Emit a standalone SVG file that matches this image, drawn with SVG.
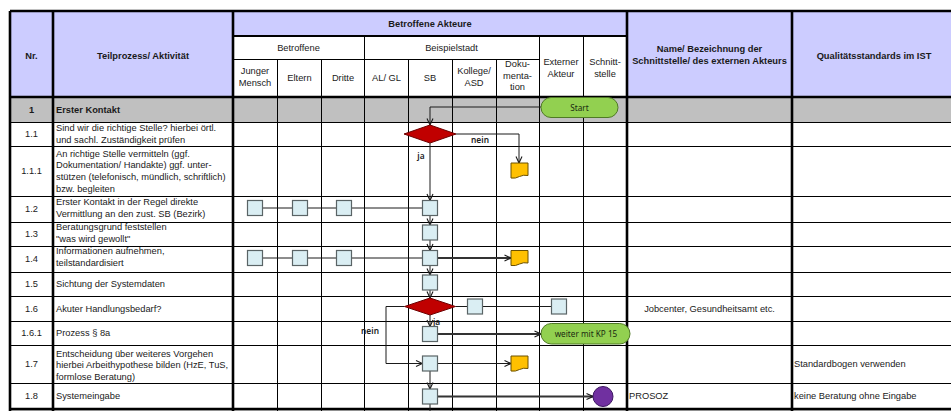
<svg xmlns="http://www.w3.org/2000/svg" width="951" height="411" viewBox="0 0 951 411">
<defs>
<marker id="arr" viewBox="0 0 8 8" refX="7.5" refY="4" markerWidth="8" markerHeight="8" markerUnits="userSpaceOnUse" orient="auto"><path d="M1,1 L7.5,4 L1,7" fill="none" stroke="#1a1a1a" stroke-width="1.1"/></marker>
</defs>
<style>
.t{font-family:"Liberation Sans",Arial,sans-serif;font-size:9.3px;fill:#1a1a1a}
.b{font-weight:bold}
.c{text-anchor:middle}
.thin{stroke:#000;stroke-width:1;fill:none}
.mid{stroke:#000;stroke-width:1.8;fill:none}
.thick{stroke:#000;stroke-width:2.6;fill:none}
.box{fill:#DAEEF3;stroke:#5a6466;stroke-width:1.2}
.dia{fill:#C00000;stroke:#6e0000;stroke-width:1}
.doc{fill:#FFC000;stroke:#6b5000;stroke-width:1}
.pill{fill:#92D050;stroke:#4f7a25;stroke-width:1}
.cir{fill:#7030A0;stroke:#3b1560;stroke-width:1}
.con{stroke:#1a1a1a;stroke-width:1;fill:none}
.con2{stroke:#333;stroke-width:1.8;fill:none}
.lbl{font-family:"Noto Sans","Open Sans",sans-serif;font-size:8.4px;font-weight:600;fill:#222}
.pt{font-family:"Noto Sans","Open Sans",sans-serif;font-size:8.2px;fill:#1a2a10;text-anchor:middle}
</style>
<g id="table">
<rect x="10" y="11" width="946" height="86" fill="#CCCCFF"/>
<rect x="233" y="36" width="394" height="61" fill="#FFFFFF"/>
<rect x="10" y="97" width="946" height="25" fill="#C0C0C0"/>
<rect x="10" y="122" width="946" height="287" fill="#FFFFFF"/>
<rect x="10" y="409" width="946" height="2" fill="#C0C0C0"/>
<path class="mid" d="M233,36 H627"/>
<path class="thin" d="M233,59.5 H539"/>
<path class="thin" d="M10,122.5 H956 M10,146.5 H956 M10,196.5 H956 M10,222.5 H956 M10,246.5 H956 M10,272.5 H956 M10,296.5 H956 M10,321.5 H956 M10,345.5 H956 M10,383.5 H956"/>
<path class="thin" d="M277.5,59 V411 M321.5,59 V411 M408.5,59 V411 M452.5,59 V411 M496.5,59 V411 M364.5,36 V411 M539.5,36 V411 M583.5,36 V411"/>
<path class="thick" d="M10,11 H956 M10,97 H956 M10,409 H956 M10,11 V411 M53,11 V411 M233,11 V411 M627,11 V411 M792,11 V411"/>
</g>
<g id="header">
<text class="t b c" x="31.5" y="58.5">Nr.</text>
<text class="t b c" x="143" y="58.5">Teilprozess/ Aktivität</text>
<text class="t b c" x="430" y="27">Betroffene Akteure</text>
<text class="t c" x="298.5" y="50.5">Betroffene</text>
<text class="t c" x="451.5" y="50.5">Beispielstadt</text>
<text class="t c" x="255" y="74">Junger</text>
<text class="t c" x="255" y="85.5">Mensch</text>
<text class="t c" x="299.5" y="80.5">Eltern</text>
<text class="t c" x="343" y="80.5">Dritte</text>
<text class="t c" x="386.5" y="80.5">AL/ GL</text>
<text class="t c" x="430" y="80.5">SB</text>
<text class="t c" x="474" y="74">Kollege/</text>
<text class="t c" x="474" y="85.5">ASD</text>
<text class="t c" x="517.5" y="67">Doku-</text>
<text class="t c" x="517.5" y="78.5">menta-</text>
<text class="t c" x="517.5" y="90">tion</text>
<text class="t c" x="561" y="65">Externer</text>
<text class="t c" x="561" y="76.5">Akteur</text>
<text class="t c" x="605" y="65">Schnitt-</text>
<text class="t c" x="605" y="76.5">stelle</text>
<text class="t b c" x="709.5" y="52">Name/ Bezeichnung der</text>
<text class="t b c" x="709.5" y="63.5">Schnittstelle/ des externen Akteurs</text>
<text class="t b c" x="874" y="58.5">Qualitätsstandards im IST</text>
</g>
<g id="rows">
<text class="t b c" x="31.5" y="113">1</text>
<text class="t b" x="56" y="113">Erster Kontakt</text>
<text class="t c" x="31.5" y="137.3">1.1</text>
<text class="t" x="56" y="131">Sind wir die richtige Stelle? hierbei örtl.</text>
<text class="t" x="56" y="142.6">und sachl. Zuständigkeit prüfen</text>
<text class="t c" x="31.5" y="174.3">1.1.1</text>
<text class="t" x="56" y="156.5">An richtige Stelle vermitteln (ggf.</text>
<text class="t" x="56" y="168.3">Dokumentation/ Handakte) ggf. unter-</text>
<text class="t" x="56" y="180.2">stützen (telefonisch, mündlich, schriftlich)</text>
<text class="t" x="56" y="192">bzw. begleiten</text>
<text class="t c" x="31.5" y="212.3">1.2</text>
<text class="t" x="56" y="205.3">Erster Kontakt in der Regel direkte</text>
<text class="t" x="56" y="217.3">Vermittlung an den zust. SB (Bezirk)</text>
<text class="t c" x="31.5" y="237.3">1.3</text>
<text class="t" x="56" y="230.3">Beratungsgrund feststellen</text>
<text class="t" x="56" y="241.8">"was wird gewollt"</text>
<text class="t c" x="31.5" y="262.3">1.4</text>
<text class="t" x="56" y="254.3">Informationen aufnehmen,</text>
<text class="t" x="56" y="266">teilstandardisiert</text>
<text class="t c" x="31.5" y="287.3">1.5</text>
<text class="t" x="56" y="287.3">Sichtung der Systemdaten</text>
<text class="t c" x="31.5" y="311.8">1.6</text>
<text class="t" x="56" y="311.8">Akuter Handlungsbedarf?</text>
<text class="t" x="709.5" y="311.8" text-anchor="middle">Jobcenter, Gesundheitsamt etc.</text>
<text class="t c" x="31.5" y="336.3">1.6.1</text>
<text class="t" x="56" y="336.3">Prozess § 8a</text>
<text class="t c" x="31.5" y="367.3">1.7</text>
<text class="t" x="56" y="356.5">Entscheidung über weiteres Vorgehen</text>
<text class="t" x="56" y="368">hierbei Arbeithypothese bilden (HzE, TuS,</text>
<text class="t" x="56" y="379.5">formlose Beratung)</text>
<text class="t" x="794" y="367.3">Standardbogen verwenden</text>
<text class="t c" x="31.5" y="399.3">1.8</text>
<text class="t" x="56" y="399.3">Systemeingabe</text>
<text class="t" x="629" y="399.3">PROSOZ</text>
<text class="t" x="794" y="399.3">keine Beratung ohne Eingabe</text>
</g>
<g id="connectors">
<path class="con" d="M541,107 H430 V125" marker-end="url(#arr)"/>
<path class="con" d="M456,134 H519 V163" marker-end="url(#arr)"/>
<path class="con" d="M430,143 V200.5" marker-end="url(#arr)"/>
<path class="con" d="M262.5,208 H292.5 M307.5,208 H336.5 M351.5,208 H422.5"/>
<path class="con" d="M430,215.5 V225" marker-end="url(#arr)"/>
<path class="con" d="M430,240 V250.5" marker-end="url(#arr)"/>
<path class="con" d="M262.5,258 H292.5 M307.5,258 H336.5 M351.5,258 H422.5"/>
<path class="con2" d="M437.5,258 H511" marker-end="url(#arr)"/>
<path class="con" d="M430,265.5 V275" marker-end="url(#arr)"/>
<path class="con" d="M430,290 V298" marker-end="url(#arr)"/>
<path class="con" d="M455.5,306.5 H467.5 M482.5,306.5 H551.5"/>
<path class="con" d="M430,315 V326.5" marker-end="url(#arr)"/>
<path class="con2" d="M437.5,334 H541" marker-end="url(#arr)"/>
<path class="con" d="M404.5,306.5 H386 V363.5 H422.5" marker-end="url(#arr)"/>
<path class="con" d="M437.5,363.5 H511" marker-end="url(#arr)"/>
<path class="con" d="M430,371 V389" marker-end="url(#arr)"/>
<path class="con2" d="M437.5,396.5 H593" marker-end="url(#arr)"/>
<path class="con" d="M430,404 V411"/>
<text class="lbl" x="480" y="143" text-anchor="middle">nein</text>
<text class="lbl" x="421" y="159" text-anchor="middle">ja</text>
<text class="lbl" x="370" y="334" text-anchor="middle">nein</text>
<text class="lbl" x="433" y="325">ja</text>
</g>
<g id="start"><rect class="pill" x="541" y="97.5" width="77" height="20" rx="10"/><text class="pt" x="579.5" y="110.5">Start</text></g>
<g id="d1"><path class="dia" d="M430,125 L456,134 L430,143 L404,134 Z"/></g>
<g id="doc1"><path class="doc" d="M511,163 H528 V175.5 Q523.5,174.5 519.5,176.5 Q515.5,178.8 511,178 Z"/></g>
<g id="b12a"><rect class="box" x="247.5" y="200.5" width="15" height="15"/></g>
<g id="b12b"><rect class="box" x="292.5" y="200.5" width="15" height="15"/></g>
<g id="b12c"><rect class="box" x="336.5" y="200.5" width="15" height="15"/></g>
<g id="b12"><rect class="box" x="422.5" y="200.5" width="15" height="15"/></g>
<g id="b13"><rect class="box" x="422.5" y="225" width="15" height="15"/></g>
<g id="b14a"><rect class="box" x="247.5" y="250.5" width="15" height="15"/></g>
<g id="b14b"><rect class="box" x="292.5" y="250.5" width="15" height="15"/></g>
<g id="b14c"><rect class="box" x="336.5" y="250.5" width="15" height="15"/></g>
<g id="b14"><rect class="box" x="422.5" y="250.5" width="15" height="15"/></g>
<g id="doc14"><path class="doc" d="M511,250.5 H528 V263 Q523.5,262 519.5,264 Q515.5,266.3 511,265.5 Z"/></g>
<g id="b15"><rect class="box" x="422.5" y="275" width="15" height="15"/></g>
<g id="d2"><path class="dia" d="M430,298 L455.5,306.5 L430,315 L404.5,306.5 Z"/></g>
<g id="b16a"><rect class="box" x="467.5" y="299" width="15" height="15"/></g>
<g id="b16b"><rect class="box" x="551.5" y="299" width="15" height="15"/></g>
<g id="b161"><rect class="box" x="422.5" y="326.5" width="15" height="15"/></g>
<g id="kp15"><rect class="pill" x="541" y="323.5" width="89" height="20.5" rx="10.25"/><text class="pt" x="586" y="336.8">weiter mit KP 15</text></g>
<g id="b17"><rect class="box" x="422.5" y="356" width="15" height="15"/></g>
<g id="doc17"><path class="doc" d="M511,356 H528 V368.5 Q523.5,367.5 519.5,369.5 Q515.5,371.8 511,371 Z"/></g>
<g id="b18"><rect class="box" x="422.5" y="389" width="15" height="15"/></g>
<g id="end"><circle class="cir" cx="603" cy="396.5" r="10"/></g>
</svg>
